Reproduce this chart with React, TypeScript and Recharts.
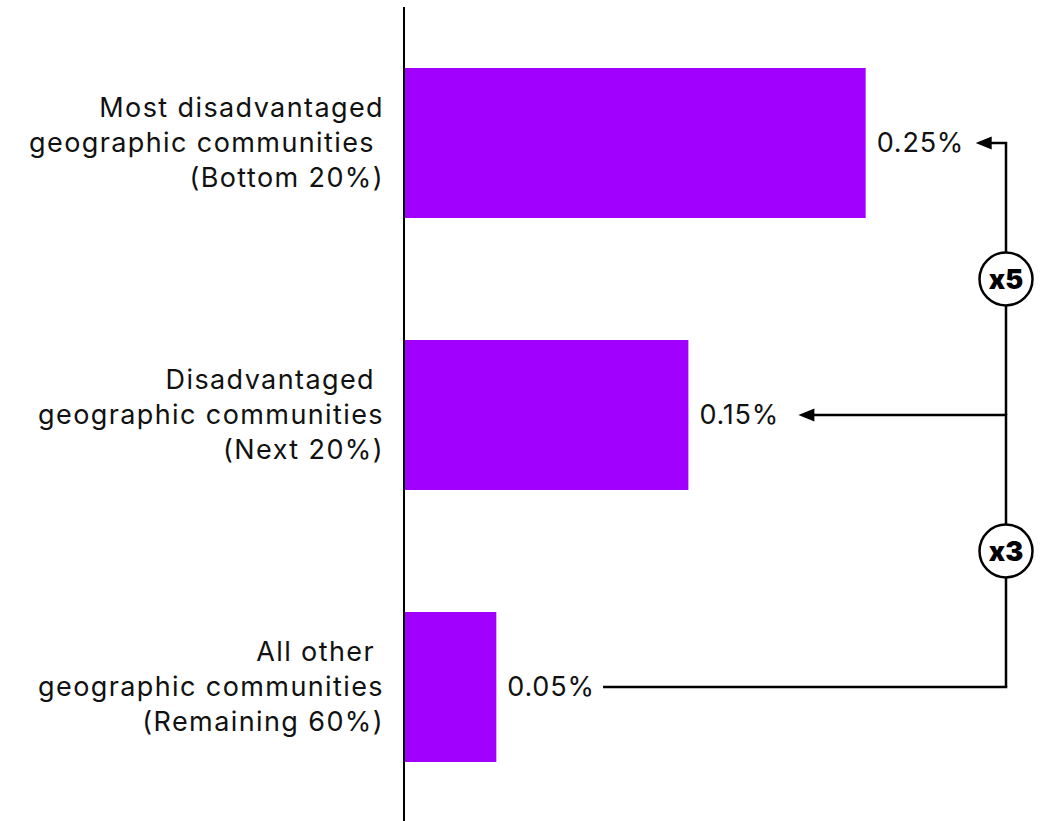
import { BarChart, Bar, XAxis, YAxis, LabelList } from "recharts";

const categories = [
  "Most disadvantaged\ngeographic communities \n(Bottom 20%)",
  "Disadvantaged \ngeographic communities\n(Next 20%)",
  "All other \ngeographic communities\n(Remaining 60%)",
];
const values = [0.25, 0.154, 0.05];
const valueLabels = ["0.25%", "0.15%", "0.05%"];
const multipliers = ["x5", "x3"];

const data = categories.map((name, i) => ({ name, value: values[i] }));

const CHART_W = 1051;
const CHART_H = 823;
const MARGIN = { top: 7, right: 93, bottom: 0, left: 0 };
const BAND = (CHART_H - MARGIN.top - MARGIN.bottom) / categories.length;
const BRACKET_X = 1006;
const LABEL_W = 85;
const FONT = "Inter, 'Noto Sans', sans-serif";

function CategoryTick(props: any) {
  const { x, y, payload } = props;
  const lines = String(payload.value).split("\n");
  return (
    <text
      x={x}
      y={y}
      textAnchor="end"
      fontSize={27}
      letterSpacing={1.4}
      fontFamily={FONT}
      fill="#111"
      style={{ whiteSpace: "pre" }}
    >
      {lines.map((l, i) => (
        <tspan key={i} x={x} y={y + (i - 1) * 35} dy="0.35em">
          {l}
        </tspan>
      ))}
    </text>
  );
}

function ValueAnnotation(props: any) {
  const { x, y, width, height, index } = props;
  const cy = y + height / 2;
  const textX = x + width + 11;
  const textEnd = textX + LABEL_W;
  const last = index === values.length - 1;
  const tip = textEnd + 14;
  const arrowLen = 16;
  return (
    <g>
      <text
        x={textX}
        y={cy}
        dy="0.35em"
        fontSize={27}
        letterSpacing={0.8}
        fontFamily={FONT}
        fill="#111"
      >
        {valueLabels[index]}
      </text>
      {last ? (
        <path
          d={`M${textEnd + 12},${cy} H${BRACKET_X}`}
          fill="none"
          stroke="#000"
          strokeWidth={2.5}
          strokeLinecap="square"
        />
      ) : (
        <>
          <path
            d={`M${tip + arrowLen - 2},${cy} H${BRACKET_X} V${cy + BAND}`}
            fill="none"
            stroke="#000"
            strokeWidth={2.5}
          />
          <polygon
            points={`${tip},${cy} ${tip + arrowLen},${cy - 6.5} ${tip + arrowLen},${cy + 6.5}`}
            fill="#000"
          />
          <circle
            cx={BRACKET_X}
            cy={cy + BAND / 2}
            r={26.5}
            fill="#fff"
            stroke="#000"
            strokeWidth={2.5}
          />
          <text
            x={BRACKET_X}
            y={cy + BAND / 2}
            dy="0.36em"
            textAnchor="middle"
            fontSize={27}
            fontWeight={900}
            fontFamily={FONT}
            fill="#000"
          >
            {multipliers[index]}
          </text>
        </>
      )}
    </g>
  );
}

export default function App() {
  return (
    <div style={{ position: "absolute", left: 0, top: 0, background: "#fff" }}>
      <BarChart
        width={CHART_W}
        height={CHART_H}
        data={data}
        layout="vertical"
        margin={MARGIN}
      >
        <XAxis type="number" domain={[0, 0.3]} hide />
        <YAxis
          type="category"
          dataKey="name"
          width={404}
          axisLine={{ stroke: "#000", strokeWidth: 2 }}
          tickLine={false}
          tickSize={0}
          tickMargin={20}
          tick={<CategoryTick />}
          interval={0}
        />
        <Bar dataKey="value" fill="#a100ff" barSize={150} isAnimationActive={false}>
          <LabelList dataKey="value" content={<ValueAnnotation />} />
        </Bar>
      </BarChart>
    </div>
  );
}
